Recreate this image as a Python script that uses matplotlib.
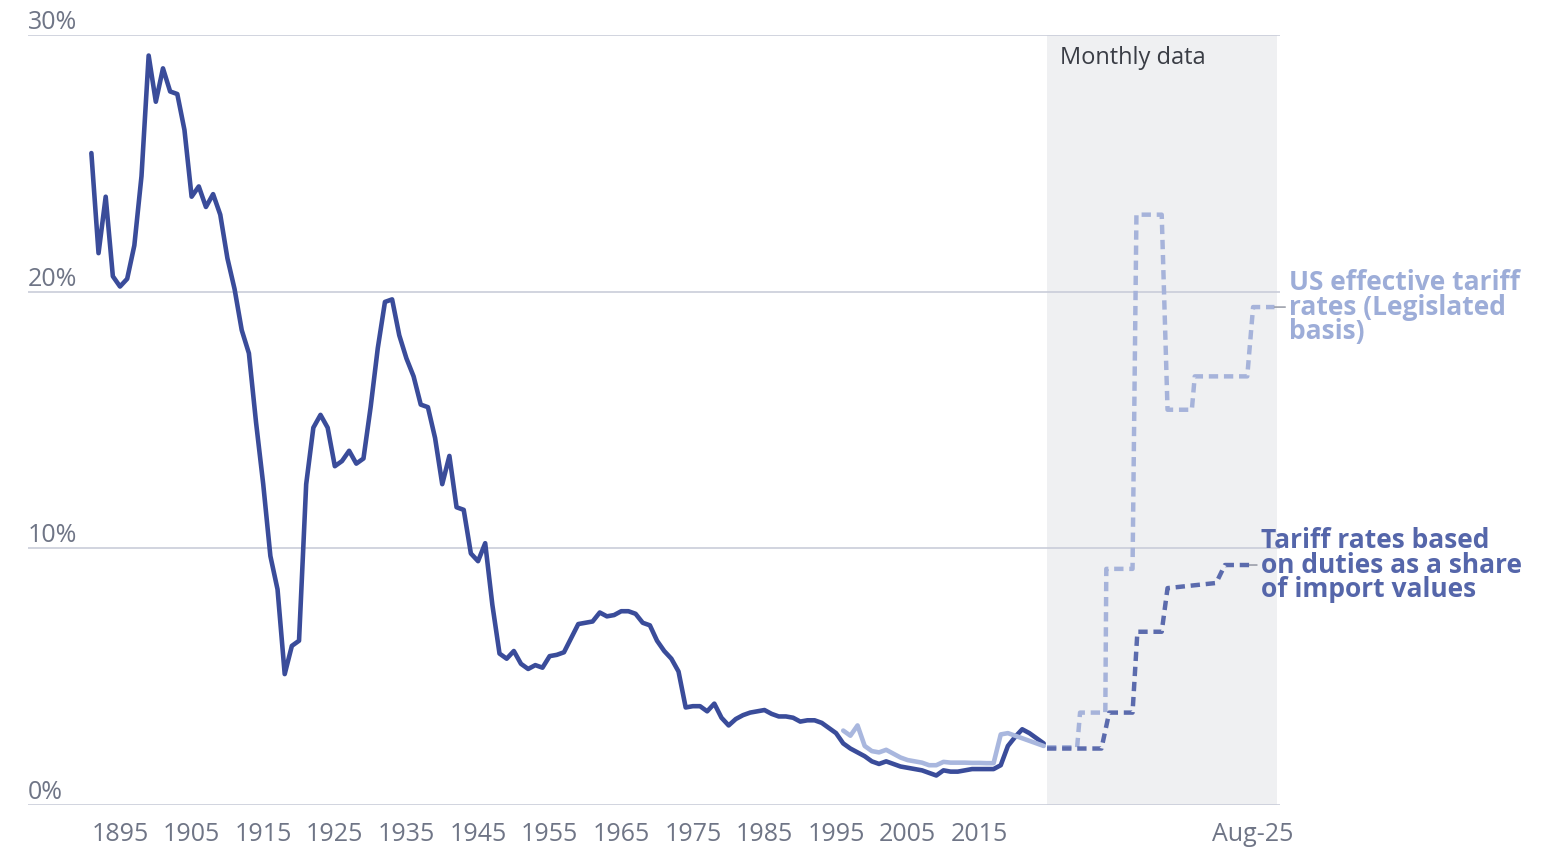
import matplotlib.pyplot as plt
import matplotlib.patches as mpatches
import pandas as pd

plt.rcParams['font.family'] = ['Open Sans', 'DejaVu Sans']

# annual data: tariff rate based on duties as a share of import values (%)
years = list(range(1891, 2025))
duties_rate = [
    25.4, 21.5, 23.7, 20.6, 20.2, 20.5, 21.8, 24.5, 29.2, 27.4,  # 1891-1900
    28.7, 27.8, 27.7, 26.3, 23.7, 24.1, 23.3, 23.8, 23.0, 21.3,  # 1901-1910
    20.1, 18.5, 17.6, 14.9, 12.5, 9.7, 8.4, 5.1, 6.2, 6.4,       # 1911-1920
    12.5, 14.7, 15.2, 14.7, 13.2, 13.4, 13.8, 13.3, 13.5, 15.5,  # 1921-1930
    17.8, 19.6, 19.7, 18.3, 17.4, 16.7, 15.6, 15.5, 14.3, 12.5,  # 1931-1940
    13.6, 11.6, 11.5, 9.8, 9.5, 10.2, 7.8, 5.9, 5.7, 6.0,        # 1941-1950
    5.5, 5.3, 5.45, 5.35, 5.8, 5.85, 5.95, 6.5, 7.05, 7.1,       # 1951-1960
    7.15, 7.5, 7.35, 7.4, 7.55, 7.55, 7.45, 7.1, 7.0, 6.4,       # 1961-1970
    6.0, 5.7, 5.2, 3.8, 3.85, 3.85, 3.65, 3.95, 3.4, 3.1,        # 1971-1980
    3.35, 3.5, 3.6, 3.65, 3.7, 3.55, 3.45, 3.45, 3.4, 3.25,      # 1981-1990
    3.3, 3.3, 3.2, 3.0, 2.8, 2.4, 2.2, 2.05, 1.9, 1.7,           # 1991-2000
    1.6, 1.7, 1.6, 1.5, 1.45, 1.4, 1.35, 1.25, 1.15, 1.35,       # 2001-2010
    1.3, 1.3, 1.35, 1.4, 1.4, 1.4, 1.4, 1.55, 2.3, 2.65,         # 2011-2020
    2.95, 2.8, 2.6, 2.4,                                         # 2021-2024
]

# annual data: US effective tariff rate, legislated basis (%)
legis_years = list(range(1996, 2025))
legis_rate = [
    2.9, 2.7, 3.1, 2.3, 2.1, 2.05, 2.15, 2.0, 1.85, 1.75,
    1.7, 1.65, 1.55, 1.55, 1.68, 1.65, 1.65, 1.65, 1.64, 1.64,
    1.63, 1.63, 2.75, 2.8, 2.7, 2.6, 2.5, 2.4, 2.3,
]

# monthly data 2025
legis_dates = ['2025-01-01', '2025-02-01', '2025-02-04', '2025-03-02', '2025-03-03',
               '2025-03-30', '2025-04-03', '2025-04-29', '2025-05-05', '2025-05-30',
               '2025-06-02', '2025-07-26', '2025-08-01', '2025-08-23']
legis_monthly = [2.25, 2.25, 3.6, 3.6, 9.2, 9.2, 23.0, 23.0, 15.4, 15.4,
                 16.7, 16.7, 19.4, 19.4]

duties_dates = ['2025-01-01', '2025-02-26', '2025-03-06', '2025-03-30', '2025-04-04',
                '2025-04-29', '2025-05-05', '2025-06-24', '2025-07-03', '2025-07-28']
duties_monthly = [2.2, 2.2, 3.6, 3.6, 6.75, 6.75, 8.45, 8.65, 9.35, 9.35]

year_ticks = list(range(1895, 2016, 10))
pct_ticks = [0, 10, 20, 30]

dark = '#3a4c9a'
light = '#a9b7de'
dash_dark = '#5b6bad'
dash_light = '#a6b3da'
grid_c = '#c9cdd9'
tick_c = '#6f7586'

W, H = 1543, 852
fig = plt.figure(figsize=(W / 100, H / 100), dpi=100)

# axes in pixel terms
bot = (H - 805) / H
top = (H - 35) / H
ax = fig.add_axes([28 / W, bot, (1280 - 28) / W, top - bot])
ax2 = fig.add_axes([1047 / W, bot, (1277 - 1047) / W, top - bot])

# annual axes
ax.set_xlim(1882.15, 2057.0)
ax.set_ylim(0, 30)
ax.plot(years, duties_rate, color=dark, lw=3.3, solid_joinstyle='round', solid_capstyle='round', zorder=3)
ax.plot(legis_years, legis_rate, color=light, lw=3.3, solid_joinstyle='round', solid_capstyle='round', zorder=4)
ax.set_yticks(pct_ticks)
ax.set_yticklabels([f'{t}%' for t in pct_ticks])
ax.set_xticks(year_ticks)
ax.set_xticklabels([str(y) for y in year_ticks])
ax.yaxis.grid(True, color=grid_c, lw=1.2)
ax.set_axisbelow(True)
ax.tick_params(axis='y', length=0, pad=0, labelsize=18, labelcolor=tick_c)
ax.tick_params(axis='x', length=0, pad=12, labelsize=18, labelcolor=tick_c)
for lab in ax.get_yticklabels():
    lab.set_ha('left')
    lab.set_va('bottom')
for s in ax.spines.values():
    s.set_visible(False)

# monthly axes
d0 = pd.Timestamp('2025-01-01')
ax2.set_xlim(d0, d0 + pd.Timedelta(days=236.6))
ax2.set_ylim(0, 30)
ax2.patch.set_visible(False)
ax2.add_patch(mpatches.Rectangle((0, 0), 1, 1, transform=ax2.transAxes,
                                 facecolor='#eff0f2', edgecolor='none', zorder=0))
ax2.set_yticks(pct_ticks)
ax2.yaxis.grid(True, color=grid_c, lw=1.2, zorder=0.5)
ax2.set_axisbelow(True)
ax2.tick_params(axis='y', length=0, labelleft=False)
ax2.set_xticks([pd.Timestamp('2025-08-01')])
ax2.set_xticklabels(['Aug-25'])
ax2.tick_params(axis='x', length=0, pad=12, labelsize=18, labelcolor=tick_c)
for s in ax2.spines.values():
    s.set_visible(False)

ld = pd.to_datetime(legis_dates)
dd = pd.to_datetime(duties_dates)
ax2.plot(ld, legis_monthly, color=dash_light, lw=3.2, dashes=(2.1, 1.3), clip_on=False, zorder=3)
ax2.plot(dd, duties_monthly, color=dash_dark, lw=3.2, dashes=(2.1, 1.3), clip_on=False, zorder=4)

ax2.annotate('Monthly data', xy=(0, 1), xycoords='axes fraction', xytext=(13, -11),
             textcoords='offset pixels', ha='left', va='top', fontsize=17, color='#3a3d45')

ax2.annotate('US effective tariff\nrates (Legislated\nbasis)', xy=(ld[-1], legis_monthly[-1]),
             xytext=(15, 0), textcoords='offset pixels', ha='left', va='center',
             fontsize=19, fontweight='bold', color='#9dadd8', linespacing=0.9,
             annotation_clip=False,
             arrowprops=dict(arrowstyle='-', color='#8a8f9c', lw=1, shrinkA=1, shrinkB=0, relpos=(0, 0.5)))
ax2.annotate('Tariff rates based\non duties as a share\nof import values', xy=(dd[-1], duties_monthly[-1]),
             xytext=(12, 0), textcoords='offset pixels', ha='left', va='center',
             fontsize=19, fontweight='bold', color='#5566aa', linespacing=0.9,
             annotation_clip=False,
             arrowprops=dict(arrowstyle='-', color='#8a8f9c', lw=1, shrinkA=1, shrinkB=0, relpos=(0, 0.5)))

fig.savefig('out.png', dpi=100)
